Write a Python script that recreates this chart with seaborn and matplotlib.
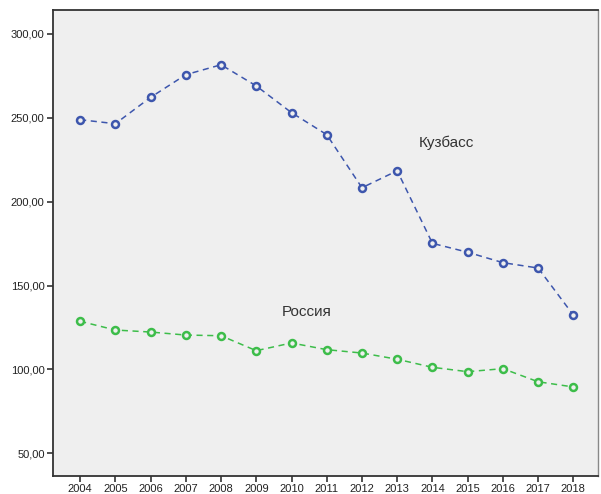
import numpy as np
import pandas as pd
import seaborn as sns
import matplotlib.pyplot as plt

years = list(range(2004, 2019))
kuzbass = [248.7, 246.3, 262.0, 275.5, 281.4, 268.8, 252.9, 239.8,
           208.2, 218.3, 175.1, 169.8, 163.6, 160.4, 132.4]
russia = [128.7, 123.5, 122.3, 120.5, 120.1, 111.2, 115.8, 111.8,
          109.8, 106.1, 101.3, 98.7, 100.5, 92.7, 89.6]
names = ['Кузбасс', 'Россия']
colors = ['#3d56ad', '#3dbd4a']

df = pd.DataFrame({
    'year': years * 2,
    'value': kuzbass + russia,
    'region': [names[0]] * len(years) + [names[1]] * len(years),
})

sns.set_style('white')
plt.rcParams['font.family'] = ['Liberation Sans', 'DejaVu Sans']

fig = plt.figure(figsize=(6.01, 4.94), dpi=100)
ax = fig.add_axes([53 / 601, 18 / 494, 545 / 601, 466 / 494])
ax.set_facecolor('#efefef')

sns.lineplot(data=df, x='year', y='value', hue='region', palette=colors,
             marker='o', markersize=5, linewidth=1.1, ax=ax, legend=False)
for line in ax.lines:
    line.set_linestyle((0, (4, 3)))
    line.set_markeredgecolor(line.get_color())
    line.set_markerfacecolor('#efefef')
    line.set_markeredgewidth(1.8)

ax.set_xlim(2003.23, 2018.7)
ax.set_ylim(36.6, 314)
ax.set_xticks(years)
ax.set_xticklabels([str(y) for y in years])
yt = [50, 100, 150, 200, 250, 300]
ax.set_yticks(yt)
ax.set_yticklabels([f'{v:.2f}'.replace('.', ',') for v in yt])
ax.tick_params(axis='both', direction='out', length=4, width=1.2,
               color='#333333', labelsize=8, labelcolor='#222222', pad=2,
               bottom=True, left=True)
ax.set_xlabel('')
ax.set_ylabel('')

for side in ['left', 'bottom', 'top']:
    ax.spines[side].set_color('#333333')
    ax.spines[side].set_linewidth(1.3)
ax.spines['right'].set_color('#888888')
ax.spines['right'].set_linewidth(1.0)

ax.text(2014.4, 234.8, names[0], fontsize=11, color='#333333', ha='center', va='center')
ax.text(2010.44, 134.4, names[1], fontsize=11, color='#333333', ha='center', va='center')

fig.savefig('out.png', dpi=100)
